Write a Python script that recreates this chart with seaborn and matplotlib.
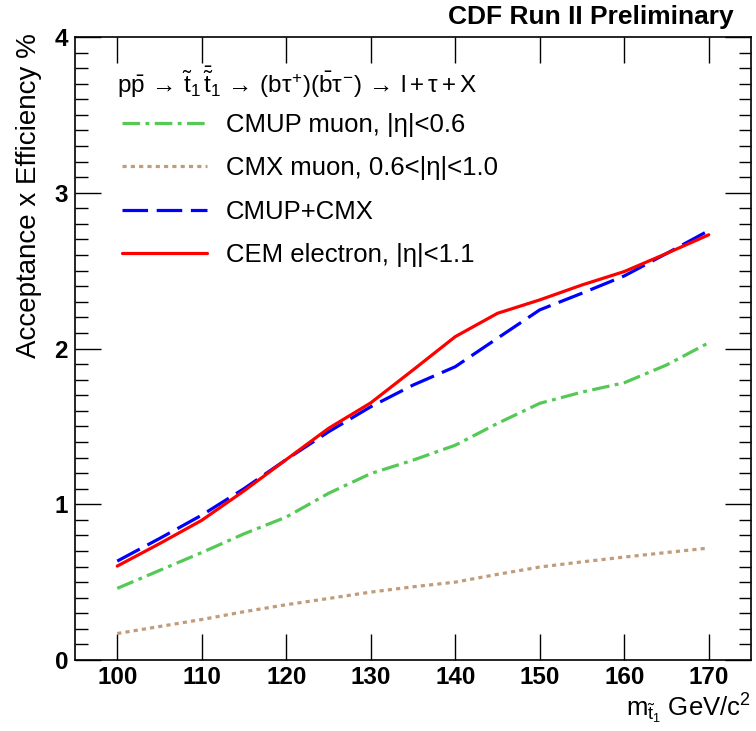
import matplotlib
matplotlib.use("Agg")
import matplotlib.pyplot as plt
import seaborn as sns
import pandas as pd
from matplotlib.ticker import MultipleLocator

# ---- data ----
mass = [100, 105, 110, 115, 120, 125, 130, 135, 140, 145, 150, 155, 160, 165, 170]
cmup = [0.46, 0.575, 0.69, 0.81, 0.918, 1.07, 1.197, 1.283, 1.379, 1.519, 1.648, 1.72, 1.78, 1.894, 2.037]
cmx = [0.17, 0.215, 0.26, 0.31, 0.355, 0.395, 0.436, 0.47, 0.50, 0.55, 0.597, 0.63, 0.661, 0.69, 0.719]
cmup_cmx = [0.635, 0.78, 0.93, 1.10, 1.287, 1.465, 1.626, 1.765, 1.883, 2.066, 2.248, 2.355, 2.466, 2.61, 2.757]
cem = [0.603, 0.747, 0.897, 1.086, 1.287, 1.487, 1.651, 1.862, 2.076, 2.226, 2.312, 2.408, 2.494, 2.61, 2.73]

labels = ["CMUP muon, |η|<0.6", "CMX muon, 0.6<|η|<1.0", "CMUP+CMX", "CEM electron, |η|<1.1"]
series = [cmup, cmx, cmup_cmx, cem]
colors = ["#55c955", "#c09c7a", "#0000ff", "#ff0000"]

df = pd.DataFrame({
    "mass": mass * 4,
    "eff": sum(series, []),
    "channel": sum([[l] * len(mass) for l in labels], []),
})

sns.set_theme(style="ticks")
plt.rcParams["font.family"] = ["Liberation Sans", "DejaVu Sans"]
plt.rcParams["mathtext.fontset"] = "custom"
plt.rcParams["mathtext.rm"] = "Liberation Sans"
plt.rcParams["mathtext.it"] = "Liberation Sans"
plt.rcParams["mathtext.bf"] = "Liberation Sans:bold"
for k in ["text.color", "axes.labelcolor", "xtick.color", "ytick.color", "axes.edgecolor"]:
    plt.rcParams[k] = "black"

fig = plt.figure(figsize=(7.56, 7.31), dpi=100)
ax = fig.add_axes([75 / 756, 1 - 660 / 731, (751 - 75) / 756, (660 - 37) / 731])

dashes = {
    labels[0]: (5.5, 1.7, 1.2, 1.7),
    labels[1]: (1.3, 1.3),
    labels[2]: (8, 2.7),
    labels[3]: "",
}
sns.lineplot(data=df, x="mass", y="eff", hue="channel", style="channel",
             hue_order=labels, style_order=labels,
             palette=dict(zip(labels, colors)), dashes=dashes,
             linewidth=2.3, ax=ax, legend=True)

ax.set_xlim(95, 175)
ax.set_ylim(0, 4)
ax.xaxis.set_major_locator(MultipleLocator(10))
ax.yaxis.set_major_locator(MultipleLocator(1))
ax.yaxis.set_minor_locator(MultipleLocator(0.1))
ax.tick_params(which="both", direction="in", top=True, right=True, color="black")
ax.tick_params(which="major", length=19, width=1.0, labelsize=17.5)
ax.tick_params(axis="x", which="major", pad=4.5)
ax.tick_params(axis="y", which="major", pad=5)
ax.tick_params(which="minor", length=9, width=1.0)
ax.tick_params(axis="x", which="minor", length=0)
for lab in ax.get_xticklabels() + ax.get_yticklabels():
    lab.set_fontweight("bold")
for sp in ax.spines.values():
    sp.set_linewidth(1.2)
    sp.set_color("black")

ax.set_xlabel(r"$m_{\tilde{t}_1}$ GeV/c$^2$", fontsize=18.5, loc="right")
ax.xaxis.set_label_coords(1.0, -(692 - 660) / 623)
ax.set_ylabel("Acceptance x Efficiency %", fontsize=20, loc="top")
ax.yaxis.set_label_coords(-(75 - 42) / 676, 1.006)

fig.text(734 / 756, 1 - 17 / 731, "CDF Run II Preliminary", ha="right", va="center",
         fontsize=19, fontweight="bold")

header = (r"$\mathrm{p\bar{p}}\,\rightarrow\,\tilde{\mathrm{t}}_1\,\bar{\tilde{\mathrm{t}}}_1\,\rightarrow\,"
          r"(\mathrm{b}\tau^{+})(\bar{\mathrm{b}}\tau^{-})\,\rightarrow\,\mathrm{l}+\tau+\mathrm{X}$")
ax.text((117 - 75) / 676, (660 - 93) / 623, header, transform=ax.transAxes,
        fontsize=17.5, ha="left", va="baseline")

handles, lbls = ax.get_legend_handles_labels()
leg = ax.legend(handles, lbls, loc="upper left",
                bbox_to_anchor=((122 - 75) / 676, (660 - 113) / 623),
                fontsize=18.5, frameon=False, handlelength=3.3,
                handletextpad=0.75, labelspacing=0.75, borderaxespad=0, borderpad=0)

fig.savefig("out.png", dpi=100)
